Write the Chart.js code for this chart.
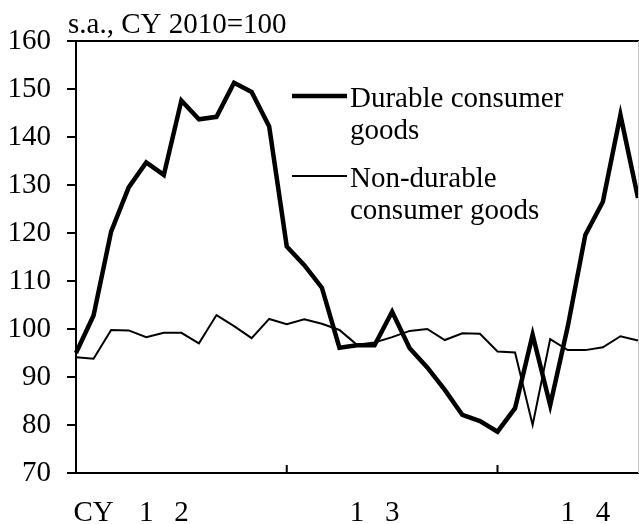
<!DOCTYPE html>
<html>
  <head>
    <meta charset="UTF-8">
    <title>Durable / non-durable consumer goods</title>
    <script src="https://cdn.jsdelivr.net/npm/chart.js"></script>
    <style>
      body { margin: 0; background: #fff; }
    </style>
  </head>
  <body>
    <canvas id="myChart" width="639" height="524"></canvas>

    <script>
      // monthly, Jan 2012 .. Sep 2014
      const months = [
        '2012-01','2012-02','2012-03','2012-04','2012-05','2012-06','2012-07','2012-08','2012-09','2012-10','2012-11','2012-12',
        '2013-01','2013-02','2013-03','2013-04','2013-05','2013-06','2013-07','2013-08','2013-09','2013-10','2013-11','2013-12',
        '2014-01','2014-02','2014-03','2014-04','2014-05','2014-06','2014-07','2014-08','2014-09'
      ];
      // text shown under the axis, one entry per month
      const tickLabels = [
        '', 'CY', '', '', '1', '', '2', '', '', '', '', '',
        '', '', '', '', '1', '', '3', '', '', '', '', '',
        '', '', '', '', '1', '', '4', '', ''
      ];
      const yearStarts = [12, 24];

      const durable = [95.0, 102.8, 120.3, 129.5, 134.7, 132.1, 147.6, 143.7, 144.2, 151.3, 149.4, 142.2,
                       117.2, 113.3, 108.6, 96.1, 96.6, 96.6, 103.6, 96.0, 92.0, 87.3, 82.1, 80.8,
                       78.6, 83.5, 98.8, 84.1, 100.5, 119.6, 126.5, 144.6, 127.3];
      const nonDurable = [94.1, 93.8, 99.8, 99.7, 98.3, 99.2, 99.2, 97.0, 102.9, 100.6, 98.1, 102.1,
                          101.0, 102.0, 101.1, 99.8, 96.7, 97.2, 98.3, 99.6, 100.0, 97.7, 99.1, 99.0,
                          95.3, 95.1, 80.0, 97.9, 95.6, 95.6, 96.2, 98.5, 97.6];

      const seriesNames = [['Durable consumer', 'goods'], ['Non-durable', 'consumer goods']];
      const unitText = 's.a., CY 2010=100';

      Chart.defaults.font.family = "'Liberation Serif', 'Times New Roman', serif";
      Chart.defaults.font.size = 29;
      Chart.defaults.color = '#000';

      // frame, year ticks, unit text and the legend
      const decor = {
        id: 'decor',
        afterDraw(chart) {
          const ctx = chart.ctx;
          const a = chart.chartArea;
          const x = chart.scales.x;
          ctx.save();
          ctx.strokeStyle = '#000';
          ctx.lineWidth = 2;
          ctx.beginPath();
          ctx.moveTo(a.left, a.top);
          ctx.lineTo(a.right + 1, a.top);
          ctx.stroke();
          yearStarts.forEach(i => {
            const px = x.getPixelForValue(i);
            ctx.beginPath();
            ctx.moveTo(px, a.bottom);
            ctx.lineTo(px, a.bottom - 8);
            ctx.stroke();
          });
          ctx.strokeStyle = '#c8c8c8';
          ctx.lineWidth = 1;
          ctx.beginPath();
          ctx.moveTo(a.right + 0.5, a.top);
          ctx.lineTo(a.right + 0.5, a.bottom);
          ctx.stroke();

          ctx.fillStyle = '#000';
          ctx.font = "29px 'Liberation Serif'";
          ctx.textAlign = 'left';
          ctx.textBaseline = 'alphabetic';
          ctx.fillText(unitText, 68, 33);

          // legend
          const widths = [4.5, 2];
          const tops = [96, 176];
          seriesNames.forEach((lines, k) => {
            ctx.strokeStyle = '#000';
            ctx.lineWidth = widths[k];
            ctx.beginPath();
            ctx.moveTo(292, tops[k]);
            ctx.lineTo(347, tops[k]);
            ctx.stroke();
            lines.forEach((t, j) => ctx.fillText(t, 350, tops[k] + 11 + j * 32));
          });
          ctx.restore();
        }
      };

      new Chart(document.getElementById('myChart'), {
        type: 'line',
        data: {
          labels: months,
          datasets: [{
            label: seriesNames[0].join(' '),
            data: durable,
            borderColor: '#000',
            borderWidth: 4.5,
            pointRadius: 0,
            tension: 0
          }, {
            label: seriesNames[1].join(' '),
            data: nonDurable,
            borderColor: '#000',
            borderWidth: 2,
            pointRadius: 0,
            tension: 0
          }]
        },
        options: {
          responsive: false,
          animation: false,
          layout: { padding: { top: 41, right: 1, left: 0, bottom: 0 } },
          plugins: { legend: { display: false }, tooltip: { enabled: false } },
          scales: {
            x: {
              grid: { display: false },
              border: { display: true, color: '#000', width: 2 },
              ticks: {
                autoSkip: false,
                maxRotation: 0,
                padding: 15,
                callback: (v, i) => tickLabels[i]
              },
              afterFit: s => { s.height = 51; s.paddingLeft = 0; s.paddingRight = 0; }
            },
            y: {
              min: 70,
              max: 160,
              grid: { drawOnChartArea: false, drawTicks: true, tickLength: 9, color: '#000', lineWidth: 2 },
              border: { display: true, color: '#000', width: 2 },
              ticks: { stepSize: 10, padding: 16 },
              afterFit: s => { s.width = 76; s.paddingTop = 0; s.paddingBottom = 0; }
            }
          }
        },
        plugins: [decor]
      });
    </script>
  </body>
</html>
